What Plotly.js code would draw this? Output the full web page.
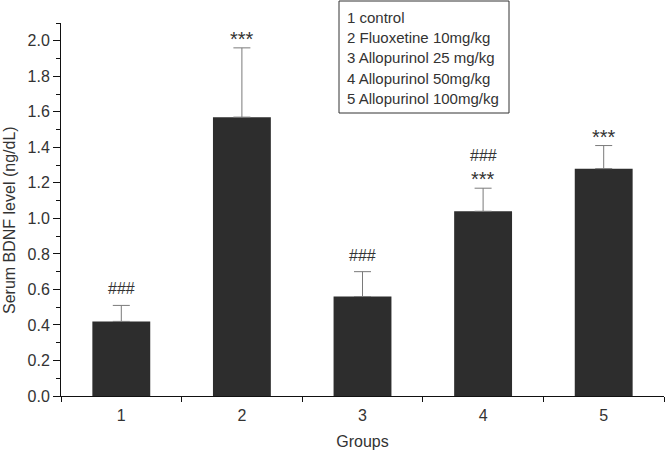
<!DOCTYPE html>
<html>
<head>
<meta charset="utf-8">
<script src="https://cdn.plot.ly/plotly-3.0.1.min.js"></script>
<style>html,body{margin:0;padding:0;background:#fff;}#chart{width:665px;height:450px;}</style>
</head>
<body>
<div id="chart"></div>
<script>
// Data
const groups = [1, 2, 3, 4, 5];
const means = [0.42, 1.57, 0.56, 1.04, 1.28];
const sems = [0.09, 0.39, 0.14, 0.13, 0.13];
const marksLower = ["###", "***", "###", "***", "***"];
const marksUpper = ["", "", "", "###", ""];
const legendLines = ["1 control", "2 Fluoxetine 10mg/kg", "3 Allopurinol 25 mg/kg", "4 Allopurinol 50mg/kg", "5 Allopurinol 100mg/kg"];
const yTitle = "Serum BDNF level (ng/dL)";
const xTitle = "Groups";

const textColor = "#333";
const fontFam = "Liberation Sans, Arial, sans-serif";

const trace = {
  type: "bar",
  x: groups,
  y: means,
  width: 0.48,
  marker: { color: "#2d2d2d", line: { width: 0 } },
  error_y: { type: "data", array: sems, symmetric: false, arrayminus: groups.map(() => 0), color: "#7a7a7a", thickness: 1, width: 8.5 },
  hoverinfo: "none"
};

const plotTop = 23, plotBottom = 396, plotLeft = 61, plotRight = 664;
const ph = plotBottom - plotTop, pw = plotRight - plotLeft;
const px2x = p => (p - plotLeft) / pw;
const px2y = p => (plotBottom - p) / ph;

const annotations = [];
groups.forEach((g, i) => {
  const top = means[i] + sems[i];
  const isStar = marksLower[i] === "***";
  annotations.push({
    x: g, y: top, xref: "x", yref: "y", text: marksLower[i], showarrow: false,
    yanchor: "bottom", yshift: isStar ? -4 : 6,
    font: { family: fontFam, size: isStar ? 20 : 16, color: textColor }
  });
  if (marksUpper[i]) {
    annotations.push({
      x: g, y: top, xref: "x", yref: "y", text: marksUpper[i], showarrow: false,
      yanchor: "bottom", yshift: 22,
      font: { family: fontFam, size: 16, color: textColor }
    });
  }
});

legendLines.forEach((t, i) => {
  annotations.push({
    x: px2x(345), y: px2y(17.5 + 20.2 * i), xref: "paper", yref: "paper",
    text: t, showarrow: false, xanchor: "left", yanchor: "middle",
    font: { family: fontFam, size: 15, color: textColor }
  });
});

// y-axis title placed as rotated text
annotations.push({
  x: px2x(9), y: px2y(220), xref: "paper", yref: "paper",
  text: yTitle, showarrow: false, textangle: -90, xanchor: "center", yanchor: "middle",
  font: { family: fontFam, size: 16, color: textColor }
});

const layout = {
  width: 665, height: 450,
  margin: { l: plotLeft, r: 665 - plotRight, t: plotTop, b: 450 - plotBottom },
  paper_bgcolor: "#fff", plot_bgcolor: "#fff",
  showlegend: false,
  font: { family: fontFam, size: 14, color: textColor },
  xaxis: {
    range: [0.5, 5.5], tickvals: groups, ticktext: groups.map(String),
    ticks: "outside", ticklen: 5, tickcolor: "rgba(0,0,0,0)",
    showline: true, linecolor: "#111", linewidth: 1, showgrid: false, zeroline: false,
    minor: { tick0: 0.5, dtick: 1, ticks: "outside", ticklen: 5, tickcolor: "#111", showgrid: false },
    tickfont: { family: fontFam, size: 16, color: textColor },
    title: { text: xTitle, font: { family: fontFam, size: 16, color: textColor }, standoff: 14 }
  },
  yaxis: {
    range: [0, 2.1], dtick: 0.2, tick0: 0, tickformat: ".1f",
    ticks: "outside", ticklen: 7, tickcolor: "#111",
    showline: true, linecolor: "#111", linewidth: 1, showgrid: false, zeroline: false,
    minor: { dtick: 0.1, ticks: "outside", ticklen: 4, tickcolor: "#111", showgrid: false },
    tickfont: { family: fontFam, size: 16, color: textColor }
  },
  shapes: [{
    type: "rect", xref: "paper", yref: "paper",
    x0: px2x(339), x1: px2x(509), y0: px2y(113), y1: px2y(1),
    line: { color: "#333", width: 1 }, fillcolor: "rgba(0,0,0,0)"
  }],
  annotations: annotations
};

Plotly.newPlot("chart", [trace], layout, { staticPlot: true, displayModeBar: false });
</script>
</body>
</html>
